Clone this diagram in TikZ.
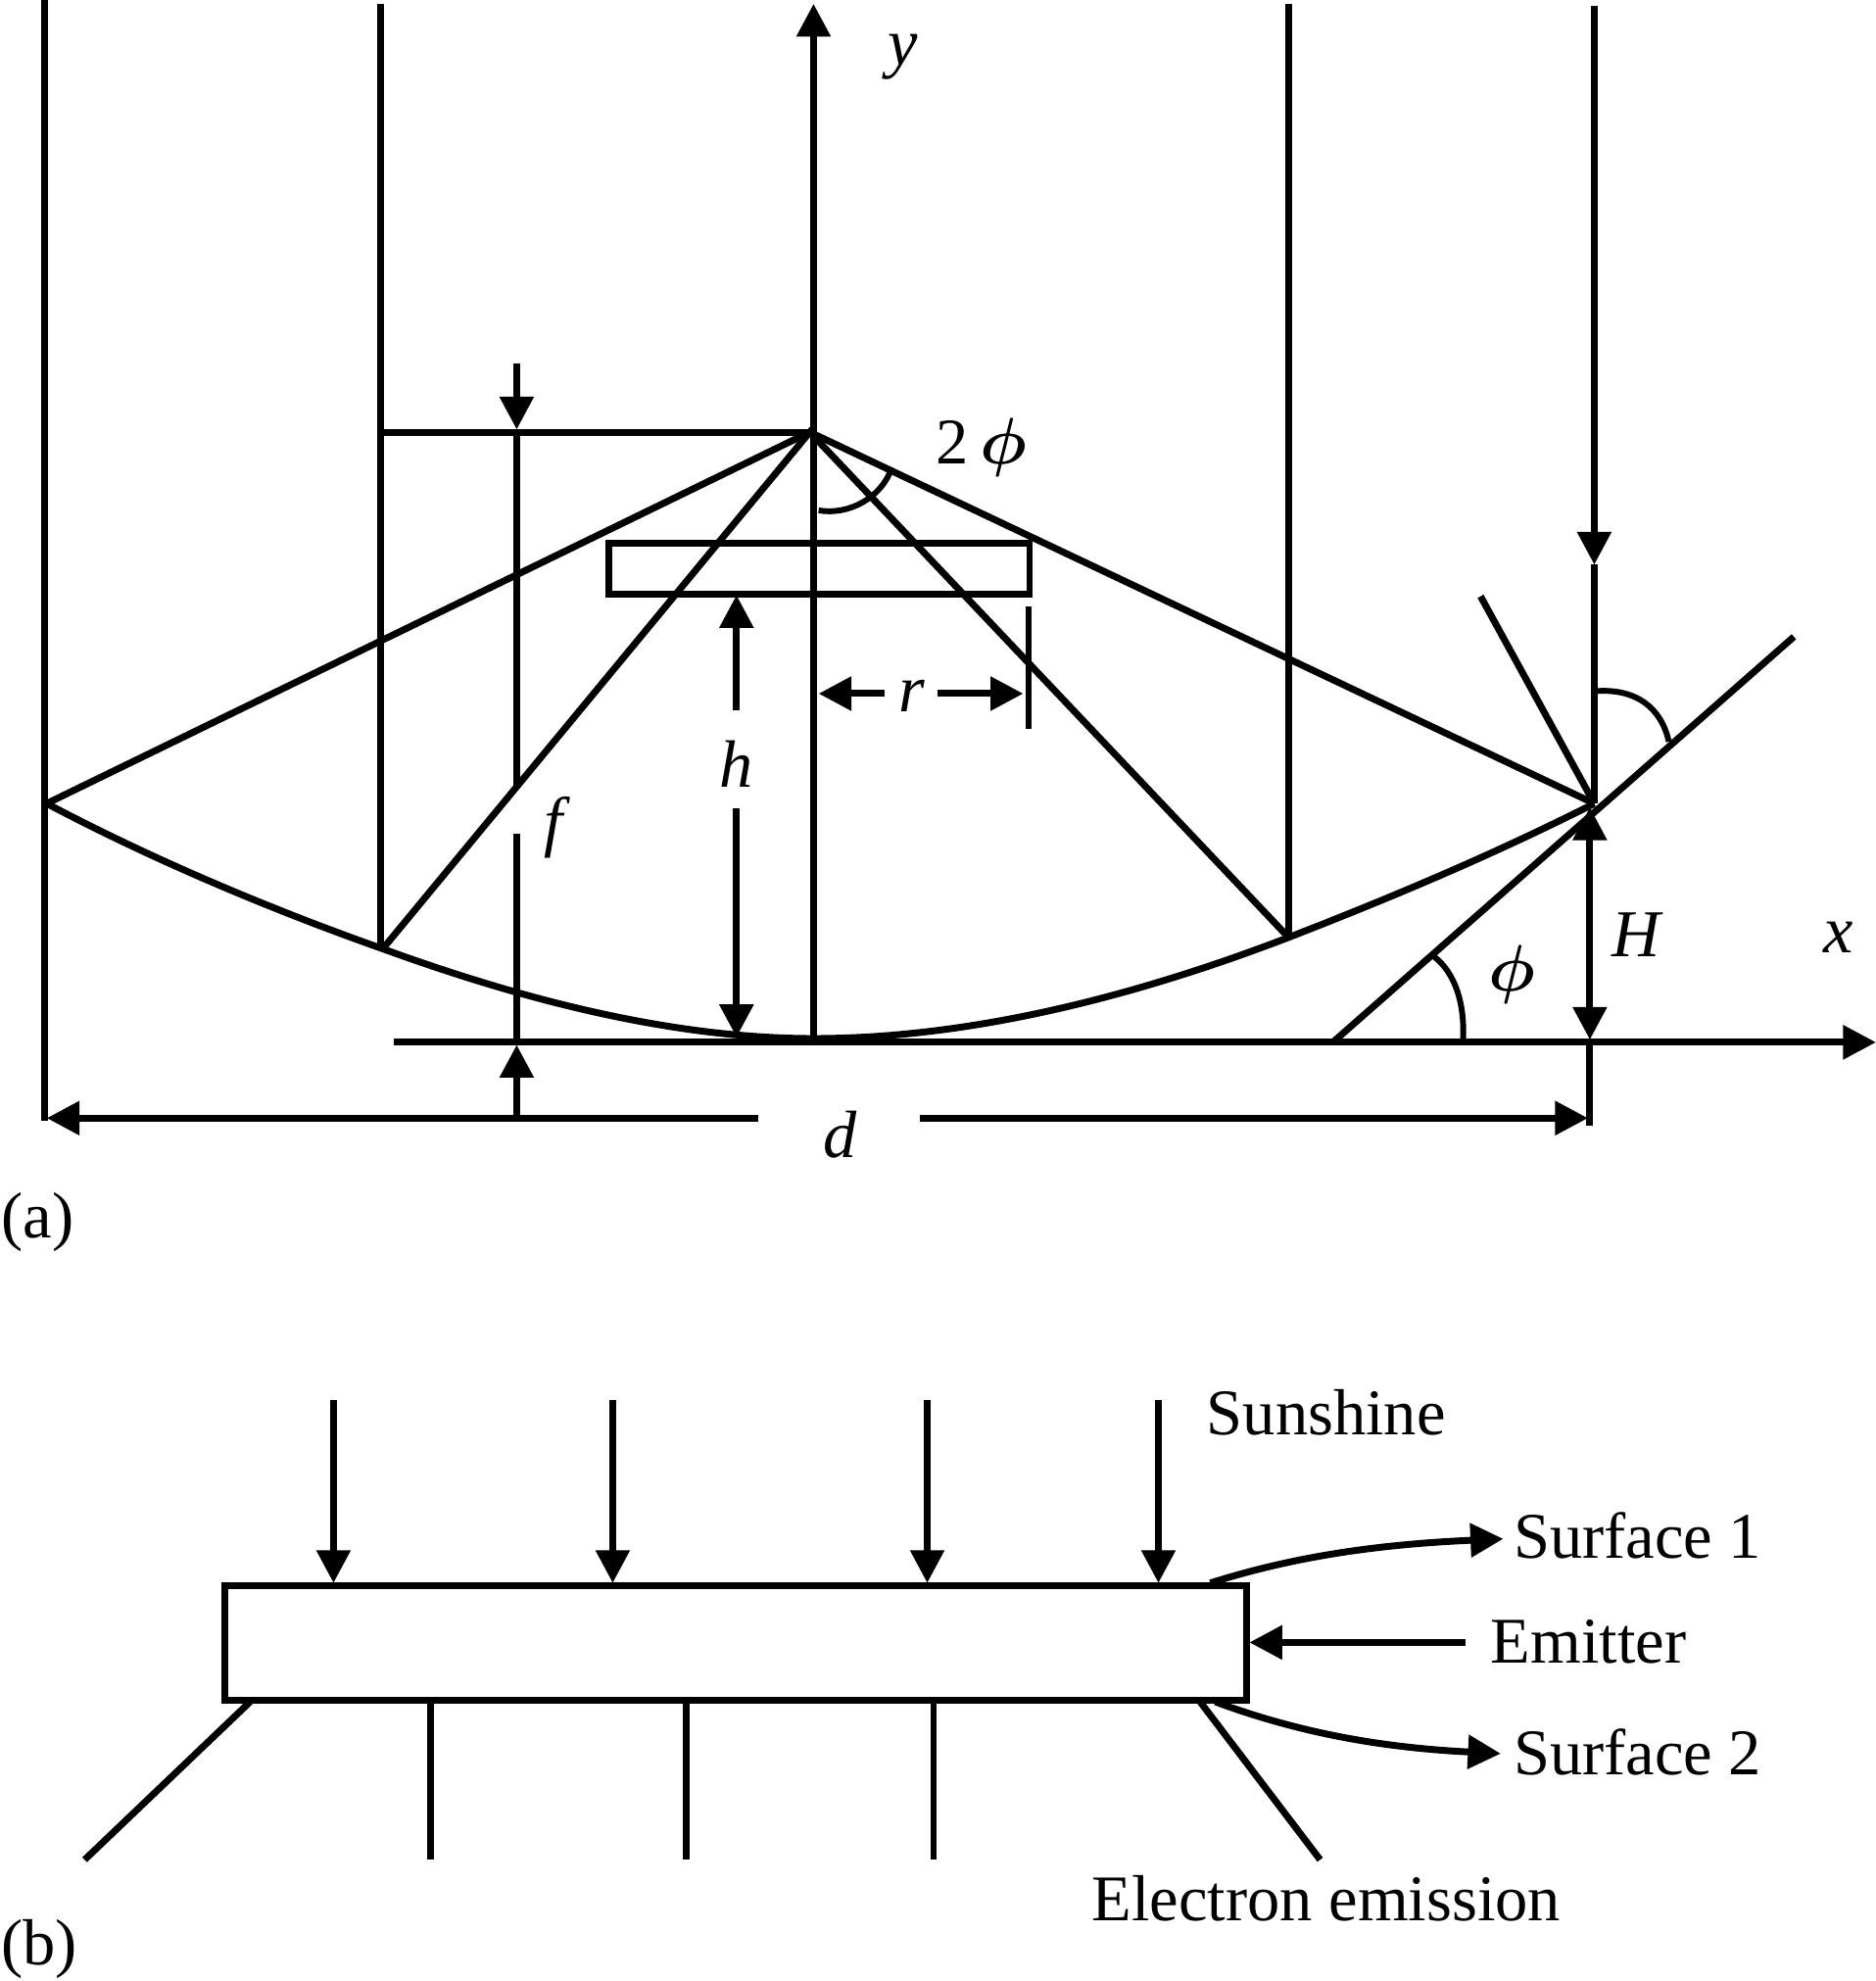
\documentclass[tikz,border=0pt]{standalone}
\usepackage{graphicx}
\usepackage{fontspec}
\setmainfont{Liberation Serif}
\usetikzlibrary{arrows.meta}
\newcommand{\bigphi}{\scalebox{5.2}{\fontsize{10}{12}\selectfont\boldmath$\phi$}}
\tikzset{
  ln/.style={line width=5.4pt,black},
  arr/.style={ln,-{Triangle[length=26pt,width=26pt]}},
  lab/.style={font=\fontsize{51.6}{60}\selectfont,inner sep=0pt,anchor=base west},
  mathlab/.style={font=\fontsize{53}{60}\selectfont\itshape,inner sep=0pt,anchor=center},
}
\begin{document}
\begin{tikzpicture}[x=1pt,y=-1pt]
\useasboundingbox (0,0) rectangle (1485,1568);
% key points
\coordinate (F) at (641,342);
\coordinate (L) at (37,636);
\coordinate (R) at (1262,636);
\coordinate (A) at (303,751);
\coordinate (B) at (1020,742);
\coordinate (O) at (644,822);
% rays
\draw[ln] (35,0) -- (35,887);
\draw[ln] (301,3) -- (301,752);
\draw[ln] (1020,3) -- (B);
\draw[arr] (644,822) -- (644,3);
\coordinate (Rtop) at (1262,5);
\coordinate (Rmid) at (1262,447);
\draw[arr] (Rtop) -- (Rmid);
\draw[ln] (Rmid) -- (R);
% mirror
\draw[ln] (L) .. controls (120,680) and (215,720) .. (A)
  .. controls (410,790) and (530,822) .. (O)
  .. controls (770,822) and (900,788) .. (B)
  .. controls (1105,709) and (1185,675) .. (R);
% reflected rays
\draw[ln] (301,342) -- (F);
\draw[ln] (L) -- (F) -- (R);
\draw[ln] (A) -- (F) -- (B);
% receiver
\draw[ln] (482,430) rectangle (815,470);
% f dimension
\coordinate (f1) at (409,288);
\coordinate (f2) at (409,340);
\coordinate (f3) at (409,622);
\coordinate (f4) at (409,660);
\coordinate (f5) at (409,885);
\coordinate (f6) at (409,827);
\draw[arr] (f1) -- (f2);
\draw[ln] (f2) -- (f3);
\draw[ln] (f4) -- (f6);
\draw[arr] (f5) -- (f6);
% h dimension
\draw[arr] (583,562) -- (583,471);
\draw[arr] (583,640) -- (583,821);
% r dimension
\draw[arr] (700,549) -- (648,549);
\draw[arr] (742,549) -- (810,549);
\draw[ln,line width=4.6pt] (814,480) -- (814,577);
% angle marks
\draw[ln,line width=4.6pt] (648,404) .. controls (672,408) and (698,394) .. (706,370);
\draw[ln,line width=4.6pt] (1264,547) .. controls (1295,545) and (1315,560) .. (1321,587);
\draw[ln,line width=4.6pt] (1135,757) .. controls (1152,770) and (1160,795) .. (1158,825);
% axis, tangent, normal
\draw[arr] (312,825) -- (1485,825);
\draw[ln] (1055,825) -- (1420,504);
\draw[ln] (1172,472) -- (R);
% H dimension
\draw[arr] (1258.5,700) -- (1258.5,639);
\draw[arr] (1258.5,700) -- (1258.5,823);
% d dimension
\draw[ln] (1258.5,825) -- (1258.5,891);
\draw[arr] (600,885) -- (37,885);
\draw[arr] (728,885) -- (1257,885);
% labels a
\node[mathlab] (ly) at (715,45) {y};
\node[mathlab] (lx) at (1455,742) {x};
\node[mathlab] (lH) at (1295,740) {H};
\node[mathlab] (lf) at (438,655) {f};
\node[mathlab] (lh) at (583,605) {h};
\node[mathlab] (lr) at (722,551) {r};
\node[mathlab] (ld) at (665,898) {d};
\node[lab,anchor=center] (l2p) at (777,354) {2\,\bigphi};
\node[inner sep=0pt] (lp) at (1197,771) {\bigphi};
\node[lab] (la) at (1,980) {(a)};
% part b
\draw[ln] (178,1255) rectangle (987,1346);
\foreach \x/\n in {264/s1,485/s2,734/s3,917/s4}{
  \coordinate (\n a) at (\x,1108);
  \coordinate (\n b) at (\x,1253);
  \draw[arr] (\n a) -- (\n b);
}
\draw[ln] (198,1347) -- (67,1472);
\draw[ln] (341,1347) -- (341,1472);
\draw[ln] (543,1347) -- (543,1472);
\draw[ln] (739,1347) -- (739,1472);
\draw[ln] (950,1347) -- (1045,1472);
\draw[arr] (958,1253) .. controls (1030,1230) and (1100,1222) .. (1190,1218);
\draw[arr] (1160,1300) -- (989,1300);
\draw[arr] (962,1347) .. controls (1040,1376) and (1110,1384) .. (1188,1388);
\node[lab] (t1) at (955,1136) {Sunshine};
\node[lab] (t2) at (1198,1233) {Surface 1};
\node[lab] (t3) at (1180,1316) {Emitter};
\node[lab] (t4) at (1198,1405) {Surface 2};
\node[lab] (t5) at (864,1520) {Electron emission};
\node[lab] (lb) at (1,1555) {(b)};
\end{tikzpicture}
\end{document}
